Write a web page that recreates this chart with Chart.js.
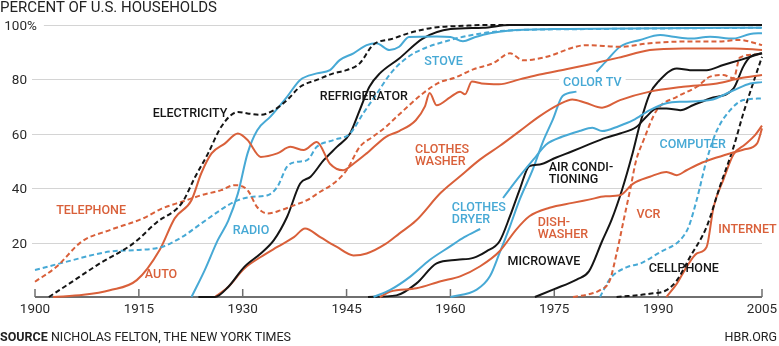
<!DOCTYPE html>
<html>
<head>
<meta charset="utf-8">
<title>Percent of U.S. households</title>
<script src="https://cdn.jsdelivr.net/npm/chart.js@4/dist/chart.umd.min.js"></script>
<style>
  html, body { margin: 0; padding: 0; background: #fff; }
  #wrap { position: relative; width: 779px; height: 346px; font-family: Roboto, "Noto Sans", sans-serif; color: #222; }
  #mycanvas { position: absolute; left: 0; top: 0; }
  .title { position: absolute; left: 0; top: 0; font-size: 15px; line-height: 15px; white-space: nowrap; }
  .foot { position: absolute; top: 331px; font-size: 12.5px; line-height: 12.5px; white-space: nowrap; }
  .foot b { font-weight: 700; }
</style>
</head>
<body>
<div id="wrap">
  <canvas id="mycanvas" width="779" height="346"></canvas>
  <div class="title">PERCENT OF U.S. HOUSEHOLDS</div>
  <div class="foot" style="left:0"><b>SOURCE</b> NICHOLAS FELTON, THE NEW YORK TIMES</div>
  <div class="foot" style="right:2px">HBR.ORG</div>
</div>
<script>
// axis ticks
var yearTicks = [1900, 1915, 1930, 1945, 1960, 1975, 1990, 2005];
var pctTicks = [20, 40, 60, 80, 100];

// [year, percent of households]; null breaks the line
var electricity = [[1902,0],[1905,5],[1909.4,12.4],[1914.2,19.7],[1917.6,27.5],[1921.2,34.5],[1923.1,44],[1925,52.8],[1926.9,62.6],[1929.3,68],[1930.7,67.5],[1932.6,67],[1934.5,68.7],[1936.4,72.4],[1938.3,77.3],[1940.7,79.8],[1943.1,82.2],[1945,83.4],[1946.9,85.9],[1948.8,92.6],[1951.7,95],[1954,97],[1957.5,99],[1962,99.7],[1965,100],[2005,100]];
var telephone = [[1900,5.6],[1903.1,11.1],[1906.7,20.3],[1910.8,24.6],[1915.6,28.9],[1918.3,32.5],[1921.2,35],[1924,37.4],[1926.9,39.3],[1928.8,41.1],[1930.7,39.3],[1932.1,33],[1933.6,30.7],[1935.5,31.9],[1937.4,33.7],[1939.3,35.6],[1941.2,38.7],[1943.1,41.7],[1945,46.6],[1946.9,55.2],[1948.8,58.9],[1950.7,62.6],[1952,65.7],[1956.1,75],[1958.5,79],[1960.5,80.5],[1963.3,83.7],[1966.2,86],[1968.6,89.6],[1970.5,87],[1973.4,88],[1979.7,92.6],[1984.5,92],[1988.8,93.3],[1993.6,93.9],[1998.5,93.9],[2001.8,94.5],[2005,92.6]];
var auto = [[1902.6,0],[1907,0.8],[1910.8,2.5],[1914.7,6.2],[1918,17.3],[1920.2,29],[1922.6,35.6],[1924,45.4],[1925.5,52.8],[1927.4,56.4],[1929.3,60.1],[1930.7,57.7],[1932.6,51.5],[1935,52.8],[1936.9,55.2],[1938.8,54],[1940.7,57],[1942.6,49],[1944.5,46.6],[1946,49],[1947.9,52.8],[1950.7,58.9],[1952.6,61],[1955,65],[1956.3,70],[1957,75],[1958,70.5],[1960,73.5],[1961.4,75.5],[1962.1,74.5],[1963.1,79.2],[1964.5,78.5],[1967,78.2],[1970,80],[1972.9,81.8],[1976.7,83.7],[1980,85.5],[1984.3,88],[1988.8,90.8],[1993.6,91.4],[2000.9,91.4],[2005,90.8]];
var radio = [[1922.6,0],[1924.5,9.8],[1926.4,20.9],[1927.9,28],[1929.3,38],[1930.7,52.8],[1932.1,61.3],[1934,66.3],[1936.4,73.6],[1938.3,79.8],[1940.7,82.2],[1942.6,83.4],[1944,87.1],[1946,89.6],[1947.9,92.6],[1949.3,93.3],[1951.2,90.8],[1952.6,92],[1954,95.6],[1958,95.8],[1960,95.6],[1961.8,94],[1963.5,95.5],[1965.7,97],[1968.6,98],[1975,98.5],[1990,98.8],[2005,99]];
var stove = [[1900,9.9],[1904.6,13],[1910.8,16.7],[1915,17.3],[1918.3,18.4],[1921.2,22],[1924,27],[1926.4,31.3],[1928.8,35],[1931.2,36.8],[1933.6,37.4],[1935,40.5],[1936.4,47.9],[1937.9,49.7],[1939.3,50.3],[1940.7,55.2],[1943.1,57.7],[1945.5,60.1],[1947.4,67.5],[1949.3,74.5],[1951.3,82],[1953,86.5],[1955,90],[1960,94.5],[1964.7,97],[1968.6,98],[1980,98.5],[2005,99]];
var refrigerator = [[1923.6,0],[1926,0],[1927.9,3.7],[1930.2,11],[1932.6,16],[1934.5,20.9],[1936.4,29.4],[1938.3,41.7],[1939.8,44.2],[1941.7,50.3],[1943.6,55.2],[1945.5,60.1],[1946.9,68.7],[1948.3,77.3],[1949.8,82.2],[1952.6,87.7],[1956,95],[1960,98.5],[1964.7,99],[1968.6,100],[2005,100]];
var clothesWasher = [[1926,0],[1927.9,3.7],[1930.2,10.4],[1932.6,14.7],[1935,18.4],[1937.4,22],[1939,25.2],[1941.2,22],[1943.6,18.4],[1946,15.3],[1947.9,16],[1950.7,19.6],[1952.6,23.3],[1955,28],[1958.6,38.3],[1961.4,44.4],[1964.3,50.6],[1967.1,55.5],[1970,61],[1972.9,66.5],[1975.7,70.8],[1977.6,72.6],[1979.5,71.4],[1981.9,69.6],[1984.5,72.4],[1988.8,75.5],[1993.6,77.3],[1998.5,78.5],[2001.8,80.4],[2005,81.6]];
var clothesDryer = [[1948.9,0],[1951.3,2.6],[1954.2,7.5],[1957,13.6],[1959.9,18.5],[1962,22],[1964.3,25],[1966,null],[1967.6,36.4],[1970,44.4],[1972.4,51.8],[1973.8,56],[1976.2,59],[1978.6,61],[1980.5,62.2],[1981.9,61],[1984.3,62.8],[1986.4,65],[1988.8,68.7],[1991.2,71.2],[1993.6,71.8],[1997.5,72.4],[2000.9,76],[2003.3,78.5],[2005,79]];
var colorTV = [[1960,0],[1963.8,2.7],[1965.7,7.6],[1967.1,16.2],[1968.6,26],[1970,35.8],[1971.9,46.9],[1973.3,56.7],[1974.8,65.3],[1976.2,73.9],[1978.2,75.5],[1979.6,null],[1981.1,82.8],[1982.6,87],[1984.5,92],[1987.4,94.5],[1990.3,96.3],[1992.2,95.7],[1994.6,95],[1997.5,95.7],[2000.9,95],[2003.3,96.7],[2005,97]];
var airConditioning = [[1948.1,0],[1952.2,0.6],[1955.1,5],[1958,12.4],[1961,13.7],[1963.3,14.4],[1965.2,16.8],[1967.1,20.5],[1968.6,29.7],[1970,39.5],[1971.4,48.1],[1972.9,48.7],[1975.2,51.2],[1977.6,53.6],[1980,56.1],[1982.4,58.5],[1984.5,60.1],[1986.9,62.6],[1988.3,66.3],[1989.8,69.3],[1991.2,69.3],[1993.2,68.7],[1995.1,70.6],[1997.5,73],[2000.9,76.7],[2002.3,84.7],[2003.3,88.3],[2005,89.6]];
var dishwasher = [[1949.8,0],[1951.3,2],[1955.1,3.2],[1958.6,5.8],[1961.4,7.6],[1964.3,11.3],[1967.1,16.8],[1969.5,24.8],[1971.4,29.7],[1974.3,32.8],[1977.6,34.6],[1980,35.8],[1982.4,37],[1984.5,37.4],[1986.4,41.7],[1988.8,44.2],[1991.2,46],[1992.7,44.8],[1994.1,46.6],[1996,49],[1998,50.9],[2000.4,52.8],[2002.5,54.3],[2004.3,56.5],[2005,62]];
var microwave = [[1972.2,0],[1974.9,2.8],[1978.3,6.5],[1980,9.4],[1981.9,20.5],[1983.3,28.5],[1984.8,39.5],[1986.2,51.8],[1987.4,63.8],[1988.8,74.8],[1990,79.1],[1992.7,84],[1994.6,83.4],[1997,83.4],[1999.4,85.3],[2001.8,87.1],[2004.2,89],[2005,89.6]];
var vcr = [[1977.7,0],[1980,1],[1981.6,2.5],[1983,6],[1984,16],[1985,28],[1986,40],[1986.8,50],[1987.9,57.7],[1989.8,68.7],[1992.7,73.6],[1995.6,77.3],[1997.5,81],[1999.4,81.6],[2000.9,80.4],[2001.8,88],[2004.2,89.2],[2005,89.6]];
var computer = [[1981.6,0],[1983.1,6.9],[1985.5,11],[1987.4,12.3],[1990.3,16.5],[1993.2,21],[1994.4,25.8],[1995.6,36],[1997,50.3],[1998.5,61.3],[2000.4,68.7],[2002.3,72.4],[2005,73]];
var cellphone = [[1984,0],[1988.8,1.2],[1991.2,2.5],[1992.7,6.1],[1994.6,14.7],[1997,25.8],[1998.9,40.5],[2000.9,55.2],[2002.3,67.5],[2003.7,78.5],[2005,88.3]];
var internet = [[1991.2,0],[1992.7,4.9],[1994.1,11],[1995.6,16],[1997,18.4],[1998,33],[1999.4,43],[2000.9,52.5],[2002.5,56],[2004,59.5],[2005,63]];

var orange = '#d9603a';
var blue = '#47a9d5';
var black = '#151515';

var series = [
  ['Electricity', electricity, black, true],
  ['Telephone', telephone, orange, true],
  ['Stove', stove, blue, true],
  ['Auto', auto, orange, false],
  ['Radio', radio, blue, false],
  ['Refrigerator', refrigerator, black, false],
  ['Clothes washer', clothesWasher, orange, false],
  ['Clothes dryer', clothesDryer, blue, false],
  ['Dishwasher', dishwasher, orange, false],
  ['Air conditioning', airConditioning, black, false],
  ['Color TV', colorTV, blue, false],
  ['Microwave', microwave, black, false],
  ['VCR', vcr, orange, true],
  ['Computer', computer, blue, true],
  ['Cellphone', cellphone, black, true],
  ['Internet', internet, orange, false]
];

// series names placed at [year, percent]; multi-line ones are left aligned
var labels = [
  {lines: ['ELECTRICITY'], at: [1922.4, 67.3], color: black},
  {lines: ['TELEPHONE'], at: [1908.1, 31.6], color: orange},
  {lines: ['AUTO'], at: [1918.2, 8.1], color: orange},
  {lines: ['RADIO'], at: [1931.2, 24.3], color: blue},
  {lines: ['REFRIGERATOR'], at: [1947.5, 73.5], color: black},
  {lines: ['STOVE'], at: [1959, 86.4], color: blue},
  {lines: ['CLOTHES', 'WASHER'], at: [1954.9, 54.0], color: orange, left: true},
  {lines: ['CLOTHES', 'DRYER'], at: [1960.2, 32.7], color: blue, left: true},
  {lines: ['COLOR TV'], at: [1980.5, 78.7], color: blue},
  {lines: ['AIR CONDI-', 'TIONING'], at: [1974.2, 47.4], color: black, left: true},
  {lines: ['DISH-', 'WASHER'], at: [1972.6, 27.2], color: orange, left: true},
  {lines: ['MICROWAVE'], at: [1973.5, 12.9], color: black},
  {lines: ['VCR'], at: [1988.6, 30.1], color: orange},
  {lines: ['COMPUTER'], at: [1995, 55.9], color: blue},
  {lines: ['INTERNET'], at: [2002.9, 24.6], color: orange},
  {lines: ['CELLPHONE'], at: [1993.7, 10.5], color: black}
];

var labelFont = '500 12.5px Roboto, "Noto Sans", sans-serif';
var lineGap = 11.5;

function toPoints(arr) {
  return arr.map(function (p) { return {x: p[0], y: p[1]}; });
}

function labelBoxes(chart, cb) {
  var ctx = chart.ctx, xs = chart.scales.x, ys = chart.scales.y;
  ctx.font = labelFont;
  labels.forEach(function (l) {
    var px = xs.getPixelForValue(l.at[0]);
    var py = ys.getPixelForValue(l.at[1]);
    l.lines.forEach(function (t, i) {
      var w = ctx.measureText(t).width;
      var left = l.left ? px : px - w / 2;
      cb(ctx, l, t, left, py + i * lineGap, w);
    });
  });
}

var frame = {
  id: 'frame',
  beforeDatasetsDraw: function (chart) {
    var ctx = chart.ctx, xs = chart.scales.x, ys = chart.scales.y;
    ctx.save();
    ctx.font = '13.5px Roboto, "Noto Sans", sans-serif';
    ctx.fillStyle = '#2a2a2a';
    ctx.textBaseline = 'middle';

    // horizontal grid + percent labels
    pctTicks.forEach(function (v) {
      var y = Math.round(ys.getPixelForValue(v)) + 0.5;
      var start;
      ctx.textAlign = 'right';
      ctx.fillText(String(v), 27, y + 1);
      if (v === 100) {
        ctx.textAlign = 'left';
        ctx.fillText('%', 27, y + 1);
        start = 27 + ctx.measureText('%').width + 7;
      } else {
        start = 32;
      }
      ctx.strokeStyle = '#d4d4d4';
      ctx.lineWidth = 1;
      ctx.beginPath();
      ctx.moveTo(start, y);
      ctx.lineTo(xs.right, y);
      ctx.stroke();
    });

    // baseline with upward ticks
    var base = ys.getPixelForValue(0);
    ctx.strokeStyle = '#6f6f6f';
    ctx.lineWidth = 2;
    ctx.beginPath();
    ctx.moveTo(xs.left, base);
    ctx.lineTo(xs.right, base);
    ctx.stroke();
    ctx.lineWidth = 1.5;
    ctx.textAlign = 'center';
    yearTicks.forEach(function (yr) {
      var x = xs.getPixelForValue(yr);
      ctx.beginPath();
      ctx.moveTo(x, base);
      ctx.lineTo(x, base - 8);
      ctx.stroke();
      ctx.fillText(String(yr), x, base + 13);
    });

    // knock the grid out behind the series names
    ctx.fillStyle = '#fff';
    labelBoxes(chart, function (c, l, t, left, cy, w) {
      c.fillRect(left - 4, cy - 7, w + 8, 14);
    });
    ctx.restore();
  },
  afterDatasetsDraw: function (chart) {
    var ctx = chart.ctx;
    ctx.save();
    ctx.textAlign = 'left';
    ctx.textBaseline = 'middle';
    labelBoxes(chart, function (c, l, t, left, cy) {
      c.fillStyle = l.color;
      c.fillText(t, left, cy);
    });
    ctx.restore();
  }
};

var datasets = series.map(function (s) {
  return {
    label: s[0],
    data: toPoints(s[1]),
    borderColor: s[2],
    backgroundColor: s[2],
    borderWidth: 2,
    borderDash: s[3] ? [5, 3] : [],
    pointRadius: 0,
    fill: false,
    cubicInterpolationMode: 'monotone',
    spanGaps: false,
    clip: false
  };
});

var ctx = document.getElementById('mycanvas');
var chart = new Chart(ctx, {
  type: 'line',
  data: {datasets: datasets},
  options: {
    responsive: false,
    animation: false,
    events: [],
    layout: {padding: {left: 35, right: 17, top: 25, bottom: 49}},
    scales: {
      x: {type: 'linear', min: 1900, max: 2005, display: false},
      y: {type: 'linear', min: 0, max: 100, display: false}
    },
    plugins: {legend: {display: false}, tooltip: {enabled: false}}
  },
  plugins: [frame]
});
</script>
</body>
</html>
